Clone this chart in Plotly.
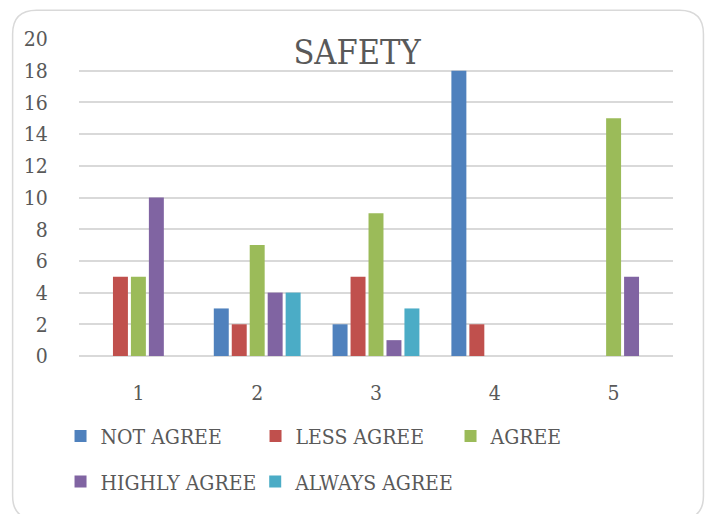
import plotly.graph_objects as go

# Survey responses on safety, grouped by question number
categories = ["1", "2", "3", "4", "5"]
not_agree = [0, 3, 2, 18, 0]
less_agree = [5, 2, 5, 2, 0]
agree = [5, 7, 9, 0, 15]
highly_agree = [10, 4, 1, 0, 5]
always_agree = [0, 4, 3, 0, 0]
y_ticks = [0, 2, 4, 6, 8, 10, 12, 14, 16, 18, 20]

series = [
    ("NOT AGREE", not_agree, "#4F81BD", "legend"),
    ("LESS AGREE", less_agree, "#C0504D", "legend"),
    ("AGREE", agree, "#9BBB59", "legend"),
    ("HIGHLY AGREE", highly_agree, "#8064A2", "legend2"),
    ("ALWAYS AGREE", always_agree, "#4BACC6", "legend3"),
]

FONT = "'DejaVu Serif Condensed', 'Liberation Serif', serif"
TEXT = "#595959"
GRID = "#D9D9D9"

W, H = 708, 514
ML, MR, MT, MB = 78.5, 34.5, 39, 155
PW, PH = W - ML - MR, H - MT - MB

fig = go.Figure()
for name, vals, color, leg in series:
    fig.add_trace(go.Bar(
        x=categories, y=vals, name=name, marker_color=color,
        marker_line_width=0, legend=leg,
    ))


def px_to_paper(x, y):
    return (x - ML) / PW, (H - MB - y) / PH


def rounded_rect(x0, y0, x1, y1, r):
    def P(x, y):
        px, py = px_to_paper(x, y)
        return f"{px:.5f},{py:.5f}"
    return (
        f"M{P(x0 + r, y0)} L{P(x1 - r, y0)} Q{P(x1, y0)} {P(x1, y0 + r)} "
        f"L{P(x1, y1 - r)} Q{P(x1, y1)} {P(x1 - r, y1)} "
        f"L{P(x0 + r, y1)} Q{P(x0, y1)} {P(x0, y1 - r)} "
        f"L{P(x0, y0 + r)} Q{P(x0, y0)} {P(x0 + r, y0)} Z"
    )


legend_common = dict(
    orientation="h",
    font=dict(family=FONT, size=21, color=TEXT),
    entrywidthmode="pixels",
    xanchor="left",
    yanchor="middle",
    bgcolor="rgba(0,0,0,0)",
    traceorder="normal",
)
lx1, _ = px_to_paper(60, 0)
lx2, _ = px_to_paper(255, 0)
_, ly1 = px_to_paper(0, 440)
_, ly2 = px_to_paper(0, 486)

fig.update_layout(
    width=W, height=H,
    margin=dict(l=ML, r=MR, t=MT, b=MB),
    paper_bgcolor="white",
    plot_bgcolor="white",
    barmode="group",
    bargap=0.244,
    bargroupgap=0.167,
    title=dict(
        text="SAFETY", x=357 / W, xanchor="center", y=1 - 52 / H, yanchor="middle",
        font=dict(family=FONT, size=34, color=TEXT),
    ),
    font=dict(family=FONT, color=TEXT),
    legend=dict(x=lx1, y=ly1, entrywidth=150, **legend_common),
    legend2=dict(x=lx1, y=ly2, entrywidth=0, **legend_common),
    legend3=dict(x=lx2, y=ly2, entrywidth=0, **legend_common),
    shapes=[dict(
        type="path", xref="paper", yref="paper",
        path=rounded_rect(12, 10, 704, 524, 24),
        line=dict(color="#D9D9D9", width=1.5), fillcolor="rgba(0,0,0,0)",
        layer="below",
    )],
)

fig.update_xaxes(
    showgrid=False, showline=False, zeroline=False,
    ticks="outside", ticklen=18, tickcolor="rgba(0,0,0,0)",
    tickfont=dict(family=FONT, size=21, color=TEXT),
)
fig.update_yaxes(
    range=[0, 20], tickvals=y_ticks,
    showgrid=True, gridcolor=GRID, gridwidth=1.5,
    zeroline=True, zerolinecolor=GRID, zerolinewidth=1.5,
    showline=False,
    ticks="outside", ticklen=26, tickcolor="rgba(0,0,0,0)",
    tickfont=dict(family=FONT, size=21, color=TEXT),
)

fig.write_html("out.html")
